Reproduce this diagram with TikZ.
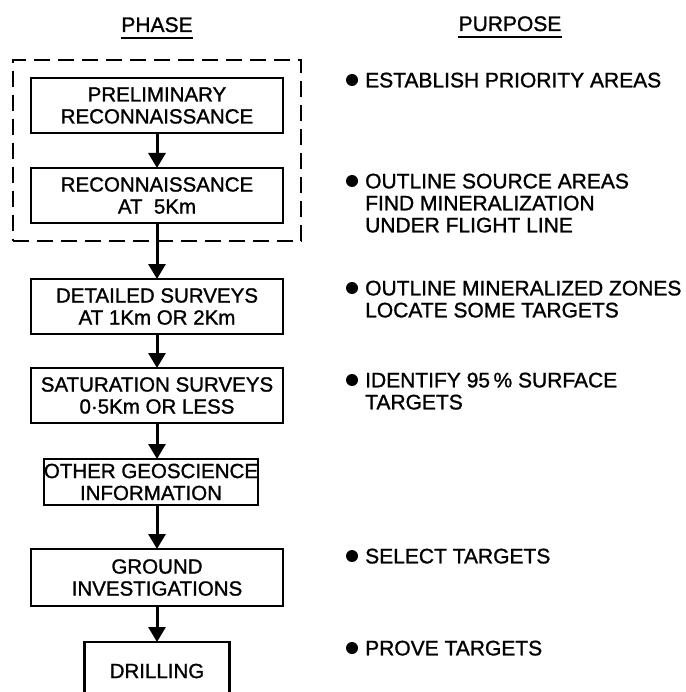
\documentclass[tikz,border=0pt]{standalone}
\usepackage{fontspec}
\setmainfont{Liberation Sans}[UprightFeatures={FakeBold=1.2}]
\usetikzlibrary{positioning,fit,arrows.meta}

\begin{document}
\begin{tikzpicture}[x=1pt,y=-1pt,
				stage/.style={draw,line width=2.6pt,minimum width=252pt,minimum height=55pt,inner sep=0pt,outer sep=0pt,
					align=center,font=\fontsize{20.5}{22}\selectfont},
				head/.style={anchor=base,inner sep=0pt,font=\fontsize{21}{22}\selectfont},
				aim/.style={anchor=north west,inner sep=0pt,align=left,font=\fontsize{21}{22}\selectfont},
				dot/.style={circle,fill,inner sep=0pt,minimum size=12pt},
				flow/.style={line width=3pt,-{Triangle[length=15pt,width=17pt]}}]
				\useasboundingbox (0,0) rectangle (685,692);

				% column headings
				\node (PHASE)   [head] at (157,32)         {PHASE};
				\node (PURPOSE) [head] at (510,31)         {PURPOSE};
				\draw[line width=2.2pt] ([yshift=-6pt]PHASE.base west) -- ([yshift=-6pt]PHASE.base east)
					([yshift=-6pt]PURPOSE.base west) -- ([yshift=-6pt]PURPOSE.base east);

				% phases
				\node (PRE) [stage] at (157,105.5)            {PRELIMINARY\\RECONNAISSANCE};
				\node (REC) [stage,below=35pt of PRE]        {RECONNAISSANCE\\AT\ \ 5Km};
				\node (DET) [stage,below=56pt of REC]        {DETAILED SURVEYS\\AT 1Km OR 2Km};
				\node (SAT) [stage,below=34pt of DET]        {SATURATION SURVEYS\\0·5Km OR LESS};
				\node (GEO) [stage,minimum width=206pt,minimum height=46pt,below=36pt of SAT,xshift=-6pt]
					{OTHER GEOSCIENCE\\INFORMATION};
				\node (GRD) [stage,minimum height=57pt,below=44pt of GEO,xshift=6pt] {GROUND\\INVESTIGATIONS};
				\node (DRL) [stage,minimum width=145pt,minimum height=58pt,below=36pt of GRD] {DRILLING};
				\node (AIR) [fit=(PRE)(REC),draw,line width=2.6pt,dash pattern=on 16pt off 8pt,inner sep=18pt] {};

				\draw[flow] (PRE) -- (REC);
				\draw[flow] (REC) -- (DET);
				\draw[flow] (DET) -- (SAT);
				\draw[flow] (SAT.south) -- (SAT.south |- GEO.north);
				\draw[flow] (GEO.south -| GRD.north) -- (GRD.north);
				\draw[flow] (GRD) -- (DRL);

				% purposes
				\node (A1) [aim] at (365,72.5)  {ESTABLISH PRIORITY AREAS};
				\node (A2) [aim] at (365,173.5) {OUTLINE SOURCE AREAS\\FIND MINERALIZATION\\UNDER FLIGHT LINE};
				\node (A3) [aim] at (365,280.5) {OUTLINE MINERALIZED ZONES\\LOCATE SOME TARGETS};
				\node (A4) [aim] at (365,372.5) {IDENTIFY 95\,\% SURFACE\\TARGETS};
				\node (A5) [aim] at (365,548.5) {SELECT TARGETS};
				\node (A6) [aim] at (365,640.5) {PROVE TARGETS};
				\foreach \n in {1,...,6}
					\node (D\n) [dot] at ([xshift=-13pt,yshift=-7.5pt]A\n.north west) {};
			\end{tikzpicture}
\end{document}
